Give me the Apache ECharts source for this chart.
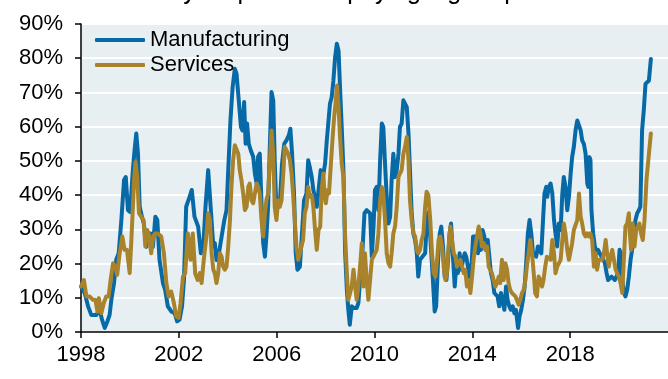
<!DOCTYPE html>
<html>
<head>
<meta charset="utf-8">
<script src="https://cdn.jsdelivr.net/npm/echarts@6/dist/echarts.min.js"></script>
<style>
  html, body { margin: 0; padding: 0; background: #fff; }
  #chart { width: 668px; height: 379px; }
</style>
</head>
<body>
<div id="chart"></div>
<script>
// Share of survey respondents paying higher prices, monthly-ish readings (%)
const titleText = 'Survey respondents paying higher prices';
const seriesNames = ['Manufacturing', 'Services'];
const yearTicks = [1998, 2002, 2006, 2010, 2014, 2018];

const mfgYears = [
  1998.00,1998.15,1998.29,1998.42,1998.63,1998.76,1998.86,1998.97,1999.08,1999.17,
  1999.24,1999.35,1999.44,1999.54,1999.65,1999.76,1999.83,1999.92,2000.01,2000.12,
  2000.19,2000.26,2000.33,2000.40,2000.49,2000.57,2000.67,2000.74,2000.85,2000.94,
  2001.04,2001.12,2001.21,2001.35,2001.44,2001.55,2001.69,2001.83,2001.93,2002.03,
  2002.13,2002.21,2002.30,2002.44,2002.53,2002.64,2002.79,2002.90,2003.00,2003.09,
  2003.20,2003.30,2003.41,2003.47,2003.54,2003.64,2003.75,2003.86,2003.95,2004.02,
  2004.11,2004.20,2004.29,2004.36,2004.45,2004.54,2004.60,2004.67,2004.73,2004.79,
  2004.86,2004.94,2005.04,2005.11,2005.18,2005.24,2005.31,2005.38,2005.45,2005.52,
  2005.58,2005.65,2005.72,2005.79,2005.86,2005.92,2005.99,2006.06,2006.13,2006.22,
  2006.31,2006.40,2006.50,2006.56,2006.63,2006.71,2006.78,2006.85,2006.95,2007.01,
  2007.12,2007.22,2007.29,2007.35,2007.44,2007.50,2007.57,2007.64,2007.71,2007.80,
  2007.89,2007.98,2008.05,2008.12,2008.18,2008.25,2008.32,2008.39,2008.46,2008.53,
  2008.59,2008.66,2008.73,2008.80,2008.87,2008.93,2008.99,2009.07,2009.16,2009.27,
  2009.34,2009.41,2009.51,2009.59,2009.68,2009.75,2009.82,2009.89,2009.96,2010.02,
  2010.09,2010.16,2010.23,2010.30,2010.36,2010.43,2010.50,2010.57,2010.64,2010.70,
  2010.77,2010.84,2010.91,2010.98,2011.04,2011.11,2011.18,2011.25,2011.32,2011.39,
  2011.45,2011.52,2011.59,2011.66,2011.73,2011.79,2011.86,2011.93,2012.07,2012.13,
  2012.20,2012.28,2012.38,2012.46,2012.52,2012.60,2012.67,2012.73,2012.80,2012.87,
  2012.94,2013.01,2013.07,2013.13,2013.20,2013.28,2013.35,2013.41,2013.48,2013.55,
  2013.62,2013.69,2013.75,2013.82,2013.89,2013.96,2014.03,2014.10,2014.16,2014.23,
  2014.29,2014.35,2014.42,2014.49,2014.56,2014.63,2014.69,2014.76,2014.83,2014.90,
  2014.97,2015.03,2015.10,2015.17,2015.24,2015.31,2015.38,2015.44,2015.51,2015.58,
  2015.65,2015.72,2015.78,2015.87,2015.93,2016.00,2016.07,2016.14,2016.21,2016.27,
  2016.34,2016.41,2016.48,2016.55,2016.61,2016.68,2016.75,2016.82,2016.89,2016.95,
  2017.02,2017.06,2017.13,2017.20,2017.27,2017.34,2017.40,2017.47,2017.54,2017.61,
  2017.68,2017.74,2017.81,2017.88,2017.95,2018.02,2018.08,2018.15,2018.22,2018.29,
  2018.36,2018.43,2018.49,2018.56,2018.63,2018.70,2018.74,2018.79,2018.83,2018.87,
  2018.94,2019.01,2019.08,2019.14,2019.21,2019.28,2019.35,2019.42,2019.49,2019.55,
  2019.62,2019.69,2019.76,2019.83,2019.90,2019.96,2020.02,2020.07,2020.13,2020.20,
  2020.26,2020.33,2020.40,2020.47,2020.53,2020.60,2020.67,2020.74,2020.81,2020.87,
  2020.94,2021.01,2021.08,2021.15,2021.22,2021.30
];
const mfgValues = [
  13.3,11.4,7.5,5.0,5.0,6.5,3.6,1.2,3.1,5.0,
  9.4,14.3,21.1,23.0,32.7,44.4,45.3,35.6,35.1,47.3,
  53.1,58.0,52.1,36.6,33.7,31.7,24.9,28.8,28.8,24.9,
  33.7,32.7,21.1,14.3,12.3,7.5,6.0,5.5,3.1,3.6,
  7.5,15.2,36.6,39.5,41.5,33.7,30.8,23.0,25.0,36.6,
  47.3,36.6,25.0,26.0,21.0,23.0,27.9,32.7,35.6,47.3,
  61.8,71.6,76.9,75.4,67.7,59.9,58.9,67.2,55.0,60.9,
  55.0,53.1,51.2,46.3,43.4,51.2,52.1,37.6,25.9,22.0,
  27.9,36.6,54.1,70.1,67.7,50.2,35.6,36.6,37.6,49.2,
  55.0,56.0,57.5,59.4,52.1,40.5,23.0,18.2,19.1,19.1,
  38.5,40.5,50.2,48.3,45.0,41.5,41.5,36.6,36.6,47.3,
  45.3,49.2,56.0,56.5,66.7,68.6,73.5,80.3,84.2,82.2,
  71.6,59.9,47.3,23.0,12.3,6.5,2.1,7.5,7.0,7.0,
  8.4,15.2,24.0,34.7,35.6,35.6,34.7,22.0,30.8,41.5,
  42.4,35.6,50.2,60.9,59.9,49.2,39.5,31.7,33.7,44.4,
  52.1,45.3,47.3,52.1,59.9,60.9,67.7,68.2,65.7,58.0,
  47.3,34.7,28.8,26.9,23.0,16.2,21.1,21.1,23.0,30.8,
  35.0,27.9,16.2,6.0,7.5,21.1,28.8,30.8,25.0,16.2,
  15.2,21.1,28.8,31.7,23.0,13.3,20.1,17.2,23.0,18.2,
  21.1,23.0,22.0,19.1,15.2,18.2,27.9,28.3,27.9,23.0,
  26.9,24.0,29.8,27.9,24.0,26.9,26.9,17.2,15.2,11.4,
  10.9,10.4,7.5,11.4,11.4,6.5,13.3,9.4,7.5,6.5,
  7.5,5.5,6.5,1.2,4.6,6.5,9.4,13.3,21.1,28.8,
  32.7,28.8,23.0,23.0,22.0,25.0,25.0,23.0,32.7,40.5,
  42.4,39.5,42.4,43.4,40.5,32.7,28.8,25.0,31.7,29.8,
  40.5,45.3,42.4,35.6,39.5,46.3,51.1,54.1,58.9,61.8,
  62.3,58.9,56.0,55.0,52.1,43.4,42.4,51.1,50.2,35.6,
  28.8,25.0,23.0,24.0,23.0,23.0,21.1,20.1,17.2,15.2,
  15.7,16.2,15.7,15.2,14.8,17.2,24.0,23.0,15.2,11.4,
  10.4,12.3,16.2,21.1,24.0,28.8,32.7,34.7,35.6,36.6,
  58.9,64.8,72.5,72.5,73.5,79.8
];

const svcYears = [
  1998.00,1998.12,1998.22,1998.35,1998.49,1998.59,1998.67,1998.73,1998.83,1998.93,
  1999.03,1999.13,1999.21,1999.31,1999.40,1999.48,1999.58,1999.69,1999.78,1999.88,
  1999.99,2000.06,2000.17,2000.23,2000.30,2000.37,2000.46,2000.56,2000.63,2000.71,
  2000.78,2000.87,2000.95,2001.04,2001.14,2001.28,2001.39,2001.49,2001.58,2001.69,
  2001.80,2001.89,2001.99,2002.07,2002.17,2002.26,2002.37,2002.48,2002.57,2002.67,
  2002.77,2002.86,2002.93,2003.02,2003.11,2003.20,2003.27,2003.34,2003.41,2003.47,
  2003.54,2003.61,2003.68,2003.75,2003.81,2003.88,2003.95,2004.02,2004.09,2004.15,
  2004.22,2004.29,2004.36,2004.43,2004.49,2004.56,2004.63,2004.70,2004.77,2004.84,
  2004.90,2004.97,2005.04,2005.11,2005.18,2005.24,2005.31,2005.38,2005.45,2005.52,
  2005.58,2005.65,2005.72,2005.79,2005.86,2005.92,2005.99,2006.06,2006.13,2006.20,
  2006.27,2006.33,2006.40,2006.47,2006.54,2006.61,2006.67,2006.74,2006.81,2006.88,
  2006.95,2007.01,2007.08,2007.15,2007.22,2007.29,2007.35,2007.44,2007.50,2007.57,
  2007.64,2007.71,2007.78,2007.84,2007.91,2007.95,2008.01,2008.08,2008.14,2008.21,
  2008.28,2008.35,2008.42,2008.47,2008.53,2008.59,2008.66,2008.73,2008.80,2008.87,
  2008.93,2009.00,2009.07,2009.14,2009.21,2009.27,2009.34,2009.41,2009.48,2009.55,
  2009.61,2009.68,2009.75,2009.82,2009.89,2009.96,2010.02,2010.09,2010.16,2010.23,
  2010.30,2010.36,2010.43,2010.50,2010.57,2010.64,2010.70,2010.77,2010.84,2010.91,
  2010.98,2011.04,2011.11,2011.18,2011.25,2011.32,2011.39,2011.45,2011.52,2011.59,
  2011.66,2011.73,2011.79,2011.86,2011.93,2012.00,2012.07,2012.13,2012.20,2012.28,
  2012.35,2012.42,2012.49,2012.56,2012.62,2012.69,2012.76,2012.83,2012.90,2012.96,
  2013.03,2013.10,2013.17,2013.24,2013.31,2013.37,2013.44,2013.51,2013.58,2013.65,
  2013.71,2013.78,2013.85,2013.92,2013.99,2014.05,2014.12,2014.19,2014.26,2014.33,
  2014.39,2014.46,2014.53,2014.60,2014.67,2014.73,2014.80,2014.87,2014.94,2015.01,
  2015.08,2015.14,2015.21,2015.28,2015.35,2015.42,2015.48,2015.55,2015.62,2015.69,
  2015.76,2015.82,2015.89,2015.96,2016.03,2016.10,2016.17,2016.23,2016.30,2016.37,
  2016.44,2016.51,2016.57,2016.64,2016.71,2016.78,2016.85,2016.91,2016.98,2017.05,
  2017.13,2017.20,2017.27,2017.34,2017.40,2017.47,2017.54,2017.61,2017.68,2017.74,
  2017.81,2017.88,2017.95,2018.02,2018.08,2018.15,2018.22,2018.29,2018.36,2018.43,
  2018.49,2018.56,2018.63,2018.70,2018.77,2018.83,2018.90,2018.97,2019.04,2019.10,
  2019.17,2019.24,2019.31,2019.38,2019.45,2019.51,2019.58,2019.65,2019.72,2019.79,
  2019.86,2019.92,2019.99,2020.06,2020.13,2020.20,2020.26,2020.33,2020.40,2020.44,
  2020.49,2020.56,2020.63,2020.70,2020.77,2020.83,2020.90,2020.97,2021.04,2021.12,
  2021.22,2021.30
];
const svcValues = [
  13.3,15.2,10.4,10.4,9.4,9.4,6.0,9.9,5.5,8.4,
  10.4,10.4,15.2,20.1,19.1,16.7,23.0,27.9,24.0,24.0,
  17.2,26.9,44.4,49.7,45.3,34.7,33.7,32.7,25.0,29.8,
  28.3,23.0,27.9,28.8,28.8,27.9,23.0,14.3,10.4,11.8,
  8.4,4.6,4.1,8.4,16.2,17.2,28.8,21.1,28.8,17.0,
  15.2,17.2,14.3,21.1,26.9,34.7,32.7,23.0,18.2,17.2,
  14.3,17.2,23.0,22.0,19.1,18.2,19.1,25.0,32.7,42.4,
  50.2,54.6,55.0,52.1,47.3,44.4,40.5,35.6,36.6,42.4,
  43.4,38.5,37.6,38.1,43.4,42.4,40.5,32.7,27.9,34.7,
  38.5,40.5,49.2,58.9,52.1,36.6,32.7,38.5,36.6,38.5,
  46.3,54.1,54.6,52.1,50.2,46.3,40.5,32.7,25.0,21.1,
  23.0,25.0,26.9,34.7,36.6,42.4,39.5,40.0,36.6,29.8,
  24.0,29.8,30.8,41.5,46.3,40.5,37.6,41.5,40.5,48.3,
  56.0,62.8,67.7,72.0,65.7,57.0,49.2,45.3,27.9,17.2,
  9.4,8.9,13.3,18.2,13.3,9.4,13.3,19.1,25.9,13.3,
  23.0,15.2,9.4,15.2,21.1,21.1,23.0,24.0,28.8,38.5,
  42.4,40.5,32.7,23.0,20.1,19.1,23.0,28.8,30.8,36.6,
  45.3,46.3,47.3,52.1,54.1,57.0,50.2,38.5,32.7,28.8,
  27.9,24.0,23.0,24.0,26.9,28.8,36.6,41.0,40.0,32.7,
  23.0,17.2,16.2,21.1,26.9,27.9,25.0,19.1,15.2,17.2,
  25.0,30.8,26.9,23.0,22.0,19.1,20.1,21.1,19.1,17.2,
  18.2,13.3,15.2,11.4,16.2,21.1,25.0,27.9,30.8,28.8,
  25.0,26.0,24.0,25.0,19.1,18.2,17.2,15.2,13.3,14.3,
  16.2,14.3,21.1,15.2,20.1,18.2,14.3,12.3,11.4,10.9,
  10.4,9.4,8.0,9.4,11.4,12.3,15.2,19.1,23.0,26.9,
  23.0,17.2,11.4,10.4,16.2,15.2,13.3,15.2,19.1,22.0,
  22.0,21.1,26.9,23.0,17.2,19.1,19.1,21.1,26.9,31.7,
  28.8,24.0,21.1,21.1,25.9,29.8,29.8,32.7,40.5,33.7,
  31.7,28.8,27.9,28.8,27.9,28.8,26.9,19.1,23.0,18.2,
  21.1,21.1,21.1,23.0,26.9,23.0,19.1,22.0,24.0,21.1,
  18.2,17.2,16.2,14.3,11.4,10.9,30.8,31.7,34.7,28.8,
  24.0,31.7,25.0,29.8,30.8,31.7,28.8,26.9,32.7,44.4,
  52.1,58.0
];

const pair = (xs, ys) => xs.map((x, i) => [x, ys[i]]);
const FONT = '"Liberation Sans", Arial, Helvetica, sans-serif';
const BLUE = '#0869A7';
const GOLD = '#A8832B';

const chart = echarts.init(document.getElementById('chart'), null, { renderer: 'canvas' });
chart.setOption({
  animation: false,
  backgroundColor: '#ffffff',
  textStyle: { fontFamily: FONT },
  graphic: [{
    type: 'text',
    x: 118,
    y: 5,
    style: {
      text: titleText,
      font: '25px ' + FONT,
      fill: '#000',
      verticalAlign: 'bottom'
    }
  }],
  legend: {
    orient: 'vertical',
    left: 95,
    top: 29,
    padding: 0,
    itemWidth: 50,
    itemHeight: 4,
    itemGap: 3,
    icon: 'roundRect',
    textStyle: { fontSize: 22, color: '#000', fontFamily: FONT },
    data: seriesNames
  },
  grid: {
    left: 81, right: 0, top: 24, bottom: 47,
    show: true, backgroundColor: '#E7EFF2', borderWidth: 0
  },
  xAxis: {
    type: 'value',
    min: 1998, max: 2022, interval: 4,
    axisLine: { show: true, lineStyle: { color: '#000', width: 1.5 } },
    axisTick: { show: true, length: 6, lineStyle: { color: '#000', width: 1.5 }, customValues: yearTicks },
    axisLabel: {
      fontSize: 22, color: '#000', margin: 12, fontFamily: FONT,
      customValues: yearTicks,
      formatter: v => (yearTicks.indexOf(v) >= 0 ? String(v) : '')
    },
    splitLine: { show: false }
  },
  yAxis: {
    type: 'value',
    min: 0, max: 90, interval: 10,
    axisLine: { show: true, lineStyle: { color: '#000', width: 1.5 } },
    axisTick: { show: true, length: 6, lineStyle: { color: '#000', width: 1.5 } },
    axisLabel: { fontSize: 22, color: '#000', margin: 18, formatter: '{value}%', fontFamily: FONT },
    splitLine: { show: true, lineStyle: { color: '#ffffff', width: 2 } }
  },
  series: [
    {
      name: seriesNames[0], type: 'line', data: pair(mfgYears, mfgValues),
      symbol: 'none', smooth: false,
      lineStyle: { color: BLUE, width: 4, cap: 'round', join: 'round' },
      itemStyle: { color: BLUE }
    },
    {
      name: seriesNames[1], type: 'line', data: pair(svcYears, svcValues),
      symbol: 'none', smooth: false,
      lineStyle: { color: GOLD, width: 4, cap: 'round', join: 'round' },
      itemStyle: { color: GOLD }
    }
  ]
});
</script>
</body>
</html>
